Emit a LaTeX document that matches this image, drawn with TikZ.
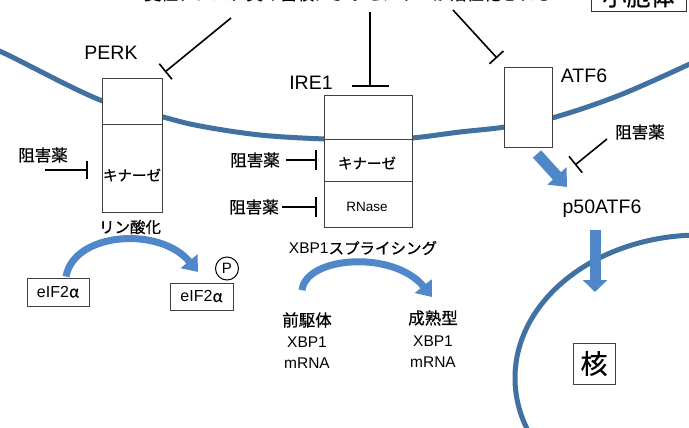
\documentclass[tikz,border=0pt]{standalone}
\usepackage{fontspec}
\setmainfont{Liberation Sans}
\newfontfamily\jp[FakeBold=0.6]{Noto Sans CJK JP}
\usetikzlibrary{arrows.meta}
\definecolor{memb}{RGB}{65,113,160}
\definecolor{arr}{RGB}{79,135,200}
\begin{document}
\begin{tikzpicture}[x=1pt,y=-1pt,
  membrane/.style={draw=memb, line width=5pt},
  protbox/.style={draw=black!75, line width=0.9pt, fill=white},
  inh/.style={line width=1.6pt, -{Bar[width=#1, line width=1.6pt]}},
  inh/.default=18pt,
  lab/.style={inner sep=0pt, font=\fontsize{19.5}{20}\selectfont},
  jpm/.style={inner sep=0pt, font=\jp\fontsize{16.5}{17}\selectfont},
  jps/.style={inner sep=0pt, font=\jp\fontsize{14.5}{15}\selectfont},
  txt/.style={inner sep=0pt, font=\fontsize{15.5}{16}\selectfont},
  ebox/.style={draw=black!75, line width=0.9pt, inner sep=0pt, font=\fontsize{16}{16}\selectfont},
  curvarrow/.style={draw=arr, line width=7pt, -{Triangle[width=21pt,length=14pt]}},
  blockarrow/.style={draw=arr, line width=#1, -{Triangle[width=25pt,length=15pt]}},
]
\useasboundingbox (0,0) rectangle (689,428);
\clip (0,0) rectangle (689,428);
\fill[white] (0,0) rectangle (689,428);

% top text (cut off at the top edge)
\node[anchor=base, inner sep=0pt, font=\jp\fontsize{17}{17}\selectfont] (toptext) at (348,0) {変性タンパク質の蓄積によりセンサーが活性化される};
\node[draw=black!80, line width=1pt, minimum width=95pt, minimum height=30pt, inner sep=0pt, anchor=south, font=\jp\fontsize{24}{24}\selectfont] (er) at (638.5,12) {小胞体};

% cell membrane
\draw[membrane] plot[smooth, tension=0.6] coordinates {(-5,50) (8,55) (100,100) (163,117) (200,126) (260,135) (324,139) (368,140) (412,138) (460,132) (505,127) (552,118) (620,95) (694,62)};

% nucleus envelope
\draw[membrane] (700,378) ellipse [x radius=185, y radius=143];

% PERK
\draw[protbox] (102,78) rectangle (162,212);
\draw[protbox] (102,124) -- (162,124);
\node[lab] (perk) at (111,53) {PERK};
\node[jps] (kin1) at (132,175) {キナーゼ};
\node[jpm] (inh1) at (43,155) {阻害薬};
\coordinate (i1a) at (45,170);
\coordinate (i1b) at (88,170);
\draw[inh] (i1a) -- (i1b);
\node[jpm, font=\jp\fontsize{15.5}{16}\selectfont] (phos) at (130,227) {リン酸化};

% IRE1
\draw[protbox] (324,95) rectangle (412,227);
\draw[protbox] (324,139) -- (412,139);
\draw[protbox] (324,181) -- (412,181);
\node[lab] (ire) at (311,83) {IRE1};
\node[jps] (kin2) at (367,163) {キナーゼ};
\node[inner sep=0pt, font=\fontsize{13.5}{14}\selectfont] (rnase) at (367,207) {RNase};
\node[jpm] (inh2) at (255,160) {阻害薬};
\node[jpm] (inh3) at (254,207) {阻害薬};
\coordinate (i2a) at (286,160);
\coordinate (i2b) at (317,160);
\coordinate (i3a) at (282,207);
\coordinate (i3b) at (317,207);
\draw[inh=20pt] (i2a) -- (i2b);
\draw[inh=20pt] (i3a) -- (i3b);

% ATF6
\draw[protbox] (504,67) rectangle (552,147);
\node[lab] (atf) at (584,76) {ATF6};
\node[jpm] (inh4) at (640,132) {阻害薬};
\coordinate (i4a) at (607,139);
\coordinate (i4b) at (575,165);
\draw[inh=21pt] (i4a) -- (i4b);

% inhibitors from the top
\coordinate (t1a) at (231,18);
\coordinate (t1b) at (165,72);
\coordinate (t2a) at (370,12);
\coordinate (t2b) at (370,87);
\coordinate (t3a) at (453,10);
\coordinate (t3b) at (497,58);
\draw[inh=20pt] (t1a) -- (t1b);
\draw[inh=37pt] (t2a) -- (t2b);
\draw[inh=19pt] (t3a) -- (t3b);

% eIF2alpha
\node[ebox, minimum width=62pt, minimum height=28pt] (e1) at (58,292) {eIF2{\jp α}};
\node[ebox, minimum width=63pt, minimum height=27pt] (e2) at (201.5,296.5) {eIF2{\jp α}};
\node[circle, draw=black, line width=1pt, minimum size=23pt, inner sep=0pt, font=\fontsize{15}{15}\selectfont] (pcirc) at (227,268.5) {P};
\draw[curvarrow] (e1.north) ++(8,-1) coordinate (c1a) .. controls (74,232) and (160,226) .. (198,272) coordinate (c1b);

% XBP1 splicing
\node[txt] (xs) at (363,248) {XBP1{\jp スプライシング}};
\node[jpm] (pre1) at (307,320) {前駆体};
\node[txt] (pre2) at (307,342) {XBP1};
\node[txt] (pre3) at (307,363) {mRNA};
\node[jpm] (mat1) at (433,318) {成熟型};
\node[txt] (mat2) at (433,341) {XBP1};
\node[txt] (mat3) at (433,362) {mRNA};
\draw[curvarrow] (pre1.north) ++(-5,-22) coordinate (c2a) .. controls (306,256) and (394,250) .. (432,297) coordinate (c2b);

% p50ATF6 and nucleus
\coordinate (d1a) at (537,154);
\coordinate (d1b) at (567,187);
\draw[blockarrow=11pt] (d1a) -- (d1b);
\node[lab] (p50) at (602,209) {p50ATF6};
\coordinate (d2a) at (595,230);
\coordinate (d2b) at (595,292);
\draw[draw=arr, line width=11pt, -{Triangle[width=24pt,length=12pt]}] (d2a) -- (d2b);
\node[draw=black!75, line width=0.9pt, minimum width=42pt, minimum height=41pt, inner sep=0pt, fill=white, font=\jp\fontsize{27}{27}\selectfont] (nuc) at (594,363.5) {核};
\end{tikzpicture}
\end{document}
